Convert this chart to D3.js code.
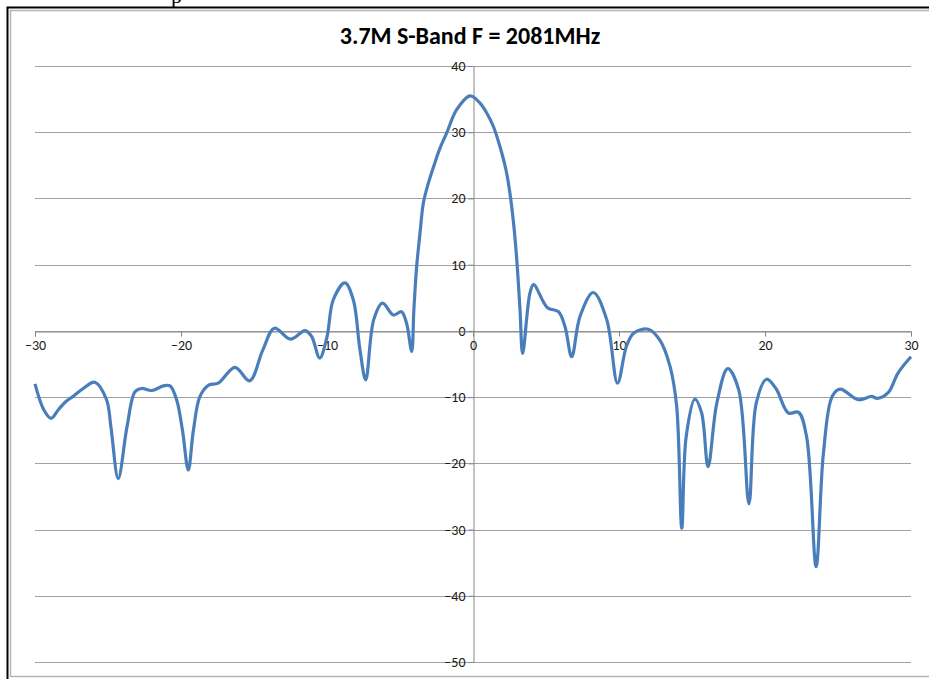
<!DOCTYPE html>
<html>
<head>
<meta charset="utf-8">
<script src="https://cdn.jsdelivr.net/npm/d3@7"></script>
<style>
  body { margin: 0; background: #fff; }
  svg { display: block; }
</style>
</head>
<body>
<div id="chart"></div>
<script>
// chart data (angle in degrees, gain in dB)
const angle = [-30, -29.4, -28.9, -28.4, -27.9, -27.4, -26.7, -25.9, -25.1, -24.8, -24.3, -23.7,
  -23.15, -22.7, -22.0, -21.2, -20.75, -20.3, -19.9, -19.5, -19.15, -18.7, -18.1, -17.45,
  -16.3, -15.3, -14.4, -13.6, -12.5, -11.5, -11.05, -10.5, -10.0, -9.57, -8.77, -8.2,
  -7.74, -7.35, -6.8, -6.2, -5.45, -4.9, -4.55, -4.2, -4.05, -3.86, -3.63, -3.4, -3.06,
  -2.7, -2.26, -1.8, -1.12, -0.2, 0.48, 0.94, 1.39, 1.85, 2.26, 2.53, 2.8, 3.0, 3.22,
  3.4, 3.9, 4.15, 5.1, 5.85, 6.3, 6.76, 7.33, 8.24, 9.16,
  9.9, 10.5, 11.0, 12.0, 12.8, 13.5, 13.95, 14.3, 14.6, 15.2, 15.66, 16.1, 16.7, 17.45,
  18.2, 18.9, 19.4, 20.1, 20.75, 21.6, 22.3, 22.85, 23.5, 24.0, 24.6, 25.14, 26.4, 27.3,
  27.7, 28.45, 29.1, 30.0];
const gain = [-8.0, -11.9, -13.2, -11.9, -10.7, -9.9, -8.7, -7.75, -10.4, -14.5, -22.3, -14.5,
  -9.2, -8.7, -9.0, -8.3, -8.3, -10.4, -15.0, -21.0, -15.0, -9.9, -8.2, -7.9,
  -5.5, -7.55, -2.9, 0.4, -1.25, 0.05, -0.85, -4.1, -0.9, 4.7, 7.25, 4.7,
  -2.9, -7.4, 1.7, 4.2, 2.4, 2.9, 1.15, -3.1, 3.2, 9.7, 14.75, 19.3, 22.3,
  24.8, 27.6, 29.9, 33.4, 35.5, 34.4, 32.9, 30.9, 27.8, 24.3, 20.8, 15.8, 10.7, 3.2,
  -3.4, 5.7, 7.0, 3.5, 2.9, 0.65, -3.9, 2.2, 5.8, 1.7,
  -7.9, -2.4, -0.35, 0.25, -1.4, -5.4, -11.4, -29.8, -16.0, -10.3, -12.4, -20.5, -10.9, -5.7,
  -8.9, -26.1, -10.9, -7.3, -8.7, -12.4, -12.3, -16.0, -35.6, -18.5, -9.9, -8.8, -10.4, -9.9,
  -10.2, -9.3, -6.4, -3.9];

const xTicks = [-30, -20, -10, 0, 10, 20, 30];
const yTicks = [-50, -40, -30, -20, -10, 0, 10, 20, 30, 40];
const title = "3.7M S-Band F = 2081MHz";

const width = 929, height = 679;
const svg = d3.select('#chart').append('svg')
  .attr('width', width)
  .attr('height', height);

// page frame (picture border)
svg.append('text')
  .attr('x', 171).attr('y', 3)
  .attr('font-family', 'Liberation Serif, serif')
  .attr('font-size', 22)
  .text('p');
svg.append('rect')
  .attr('x', 7.5).attr('y', 7.5)
  .attr('width', 940).attr('height', 700)
  .attr('fill', '#fff')
  .attr('stroke', '#000')
  .attr('stroke-width', 2);
svg.append('rect')
  .attr('x', 10.5).attr('y', 10.5)
  .attr('width', 940).attr('height', 666)
  .attr('fill', '#fff')
  .attr('stroke', '#b4b4b4')
  .attr('stroke-width', 1.5);

const x = d3.scaleLinear().domain([-30, 30]).range([35, 911]);
const y = d3.scaleLinear().domain([-50, 40]).range([662, 66]);

// title
svg.append('text')
  .attr('x', 470).attr('y', 44)
  .attr('text-anchor', 'middle')
  .attr('font-family', 'Carlito, Calibri, "Open Sans", sans-serif')
  .attr('font-weight', 'bold')
  .attr('font-size', 24)
  .attr('fill', '#000')
  .text(title);

// horizontal gridlines
svg.append('g')
  .selectAll('line')
  .data(yTicks)
  .enter()
  .append('line')
  .attr('x1', x(-30)).attr('x2', x(30))
  .attr('y1', d => Math.round(y(d)) + 0.5)
  .attr('y2', d => Math.round(y(d)) + 0.5)
  .attr('stroke', '#a0a0a0')
  .attr('stroke-width', 1);

// y axis at x = 0
const yAxis = d3.axisLeft(y).tickValues(yTicks).tickSize(5).tickPadding(3);
const gy = svg.append('g')
  .attr('transform', 'translate(' + (Math.round(x(0)) + 0.5) + ',0)')
  .call(yAxis);

// x axis at y = 0
const xAxis = d3.axisBottom(x).tickValues(xTicks).tickSize(5).tickPadding(4);
const gx = svg.append('g')
  .attr('transform', 'translate(0,' + (Math.round(y(0)) + 0.5) + ')')
  .call(xAxis);

[gx, gy].forEach(function(g) {
  g.select('.domain').attr('stroke', '#868686');
  g.selectAll('.tick line').attr('stroke', '#868686');
  g.selectAll('.tick text')
    .attr('fill', '#1a1a1a')
    .attr('font-family', 'Carlito, Calibri, "Open Sans", sans-serif')
    .attr('font-size', 14);
});

// data line
const points = angle.map((a, i) => [a, gain[i]]);
const line = d3.line()
  .x(d => x(d[0]))
  .y(d => y(d[1]))
  .curve(d3.curveCatmullRom.alpha(0.5));

svg.append('path')
  .datum(points)
  .attr('d', line)
  .attr('fill', 'none')
  .attr('stroke', '#4a7ebb')
  .attr('stroke-width', 3.2)
  .attr('stroke-linejoin', 'round');
</script>
</body>
</html>
